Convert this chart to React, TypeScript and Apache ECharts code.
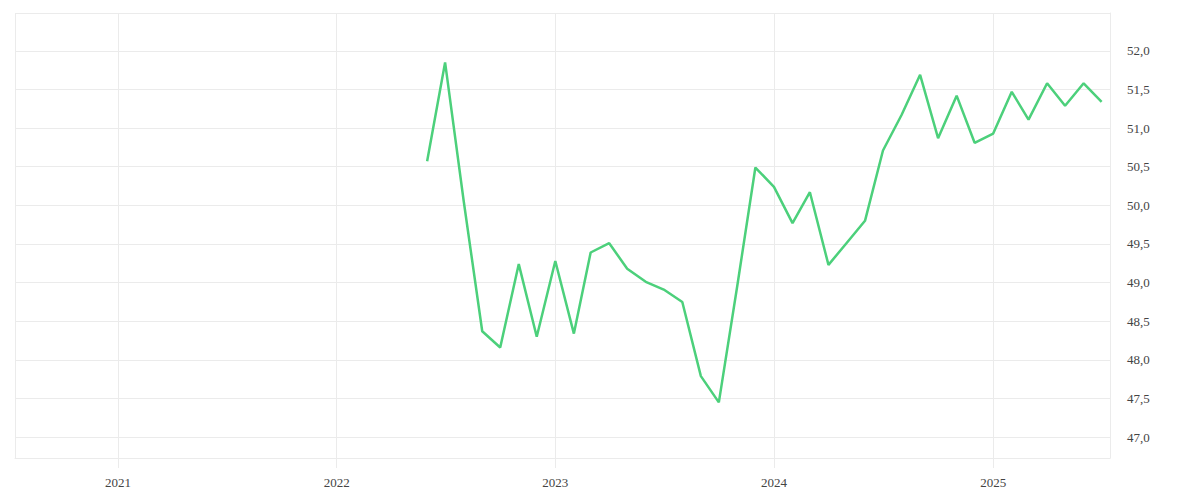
import { useEffect, useRef } from 'react';
import * as echarts from 'echarts';

// monthly readings, Jun 2022 .. Jul 2025
const months = [
  '2022-06-01', '2022-07-01', '2022-08-01', '2022-09-01', '2022-10-01', '2022-11-01', '2022-12-01',
  '2023-01-01', '2023-02-01', '2023-03-01', '2023-04-01', '2023-05-01', '2023-06-01',
  '2023-07-01', '2023-08-01', '2023-09-01', '2023-10-01', '2023-11-01', '2023-12-01',
  '2024-01-01', '2024-02-01', '2024-03-01', '2024-04-01', '2024-05-01', '2024-06-01',
  '2024-07-01', '2024-08-01', '2024-09-01', '2024-10-01', '2024-11-01', '2024-12-01',
  '2025-01-01', '2025-02-01', '2025-03-01', '2025-04-01', '2025-05-01', '2025-06-01', '2025-07-01'
];

const values = [
  50.57, 51.85, 50.06, 48.37, 48.16, 49.24, 48.3,
  49.28, 48.34, 49.39, 49.51, 49.18, 49.01,
  48.91, 48.75, 47.79, 47.45, 48.97, 50.49,
  50.24, 49.77, 50.17, 49.23, 49.51, 49.8,
  50.71, 51.17, 51.69, 50.87, 51.42, 50.81,
  50.93, 51.47, 51.11, 51.58, 51.29, 51.58, 51.34
];

const xRange = ['2020-07-13', '2025-07-15'];
const yRange = [46.73, 52.49];

const gridColor = '#ebebeb';
const textColor = '#444';
const font = 'Liberation Serif';

export default function App() {
  const chartRef = useRef<HTMLDivElement>(null);

  useEffect(() => {
    if (!chartRef.current) return;
    const chart = echarts.init(chartRef.current, null, { renderer: 'svg' });

    chart.setOption({
      animation: false,
      grid: { left: 15, right: 90, top: 13, bottom: 42 },
      xAxis: {
        type: 'time',
        min: xRange[0],
        max: xRange[1],
        splitNumber: 5,
        axisLine: { show: true, lineStyle: { color: gridColor, width: 1 } },
        axisTick: { show: true, length: 10, lineStyle: { color: gridColor, width: 1 } },
        splitLine: { show: true, lineStyle: { color: gridColor } },
        axisLabel: {
          formatter: '{yyyy}',
          color: textColor,
          fontFamily: font,
          fontSize: 13,
          margin: 18
        }
      },
      yAxis: {
        type: 'value',
        position: 'right',
        min: yRange[0],
        max: yRange[1],
        splitNumber: 12,
        axisLine: { show: true, lineStyle: { color: gridColor } },
        axisTick: { show: false },
        splitLine: { show: true, lineStyle: { color: gridColor } },
        axisLabel: {
          showMinLabel: false,
          showMaxLabel: false,
          margin: 17,
          color: textColor,
          fontFamily: font,
          fontSize: 13,
          formatter: (v: number) =>
            Math.abs(v * 2 - Math.round(v * 2)) < 1e-6 ? v.toFixed(1).replace('.', ',') : ''
        }
      },
      series: [
        {
          type: 'line',
          data: months.map((m, i) => [m, values[i]]),
          showSymbol: false,
          lineStyle: { color: '#4cd07b', width: 2.5 },
          itemStyle: { color: '#4cd07b' }
        }
      ]
    });

    return () => {
      chart.dispose();
    };
  }, []);

  return (
    <div
      ref={chartRef}
      style={{ position: 'fixed', left: 0, top: 0, width: '1200px', height: '500px', background: '#fff' }}
    />
  );
}
